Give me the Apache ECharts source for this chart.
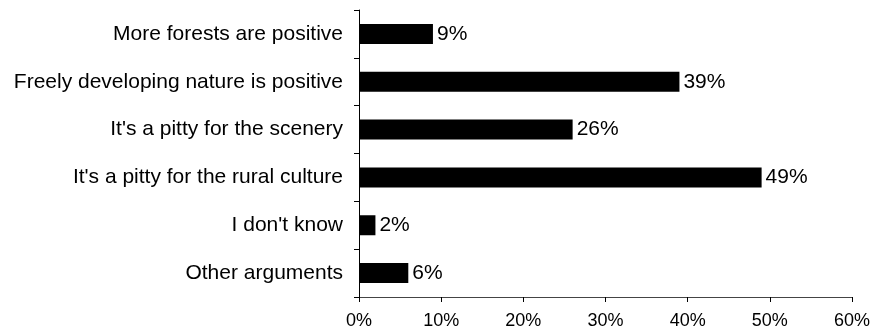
<!DOCTYPE html>
<html>
<head>
<meta charset="utf-8">
<script src="https://cdn.jsdelivr.net/npm/echarts@6/dist/echarts.min.js"></script>
<style>
  html, body { margin: 0; padding: 0; background: #fff; }
  #chart { width: 873px; height: 333px; }
</style>
</head>
<body>
<div id="chart"></div>
<script>
// top to bottom
var categories = [
	"More forests are positive",
	"Freely developing nature is positive",
	"It's a pitty for the scenery",
	"It's a pitty for the rural culture",
	"I don't know",
	"Other arguments"
];
var shares = [9, 39, 26, 49, 2, 6];
var xTicks = [0, 10, 20, 30, 40, 50, 60];

var chart = echarts.init(document.getElementById("chart"));
var font = "Liberation Sans, Arial, sans-serif";

chart.setOption({
	animation: false,
	grid: { left: 359, right: 21, top: 10, bottom: 36 },
	xAxis: {
		type: "value",
		min: xTicks[0],
		max: xTicks[xTicks.length - 1],
		interval: 10,
		axisLine: { show: true, lineStyle: { color: "#444", width: 1 } },
		axisTick: { show: true, length: 5, lineStyle: { color: "#000" } },
		splitLine: { show: false },
		axisLabel: {
			formatter: "{value}%",
			color: "#000",
			fontSize: 18,
			fontFamily: font,
			margin: 15
		}
	},
	yAxis: {
		type: "category",
		inverse: true,
		data: categories,
		axisLine: { show: true, lineStyle: { color: "#000", width: 1 } },
		axisTick: { show: true, length: 5, lineStyle: { color: "#000" } },
		axisLabel: {
			color: "#000",
			fontSize: 21,
			fontFamily: font,
			margin: 16
		}
	},
	series: [
		{
			type: "bar",
			data: shares,
			barWidth: 20,
			itemStyle: { color: "#000" },
			label: {
				show: true,
				position: "right",
				distance: 4,
				formatter: "{c}%",
				color: "#000",
				fontSize: 21,
				fontFamily: font
			}
		}
	]
});
</script>
</body>
</html>
